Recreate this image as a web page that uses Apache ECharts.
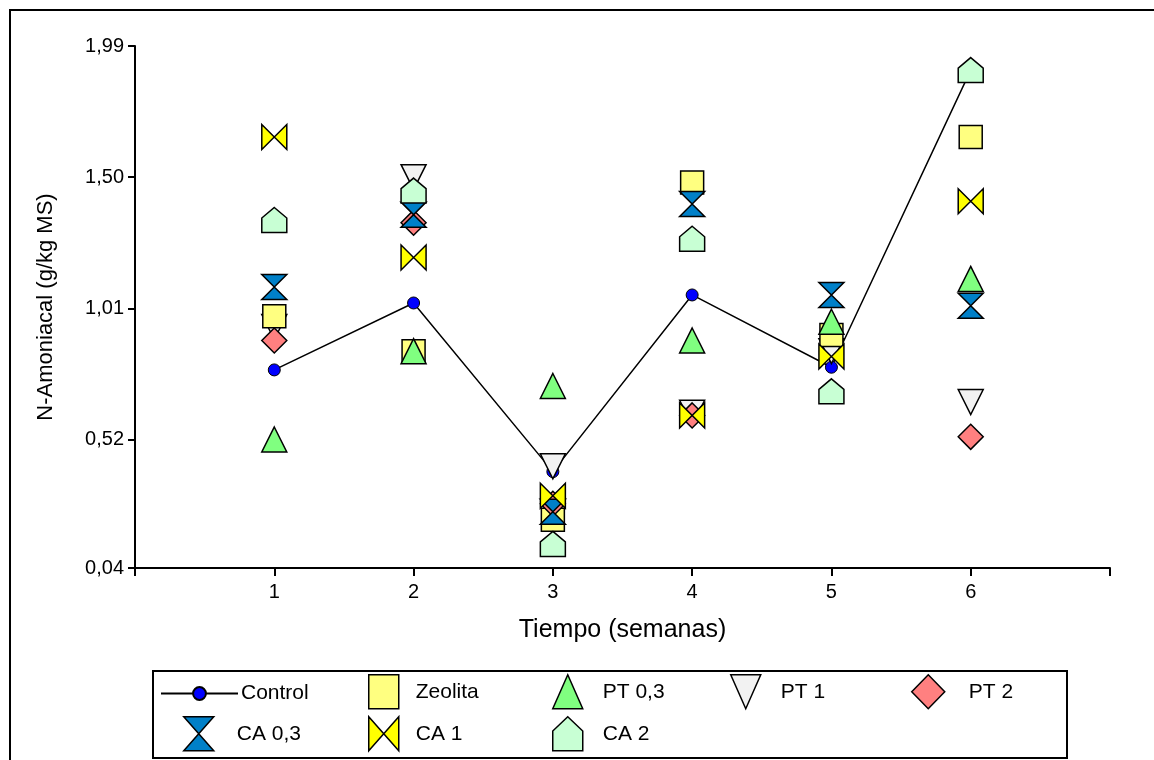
<!DOCTYPE html>
<html>
<head>
<meta charset="utf-8">
<script src="https://cdn.jsdelivr.net/npm/echarts@6/dist/echarts.min.js"></script>
<style>
html,body{margin:0;padding:0;background:#fff;}
#chart{width:1154px;height:760px;}
</style>
</head>
<body>
<div id="chart"></div>
<script>
// ---- data ----
var weeks = [1, 2, 3, 4, 5, 6];
var yTicks = [0.04, 0.52, 1.01, 1.50, 1.99];
var xTicks = [1, 2, 3, 4, 5, 6];
var control = [0.78, 1.03, 0.40, 1.06, 0.79, 1.90];
var zeolita = [0.98, 0.85, 0.22, 1.48, 0.91, 1.65];
var pt03    = [0.52, 0.85, 0.72, 0.89, 0.96, 1.12];
var pt1     = [0.94, 1.50, 0.42, 0.62, 0.85, 0.66];
var pt2     = [0.89, 1.33, 0.28, 0.61, null, 0.53];
var ca03    = [1.09, 1.36, 0.25, 1.40, 1.06, 1.02];
var ca1     = [1.65, 1.20, 0.31, 0.61, 0.83, 1.41];
var ca2     = [1.34, 1.45, 0.13, 1.27, 0.70, 1.90];

function pairs(arr){ return weeks.map(function(w,i){ return [w, arr[i]]; }); }

var FONT = "'Liberation Sans', Arial, sans-serif";
var SYM = {
  square: 'rect',
  triUp: 'triangle',
  triDown: 'path://M0,0 L10,0 L5,10 Z',
  diamond: 'diamond',
  hourglass: 'path://M0,0 L10,0 L0,10 L10,10 Z',
  bowtie: 'path://M0,0 L0,10 L10,0 L10,10 Z',
  house: 'path://M5,0 L10,4.2 L10,10 L0,10 L0,4.2 Z'
};

var scatterDefs = [
  {name:'Zeolita', data:zeolita, sym:SYM.square, color:'#FFFF80', size:[23,23], z:3, leg:{left:368, top:674, pad:12}},
  {name:'PT 0,3', data:pt03, sym:SYM.triUp, color:'#80FF80', size:[25,25], z:4, leg:{left:552, top:674, pad:15}},
  {name:'PT 1', data:pt1, sym:SYM.triDown, color:'#F2F2F2', size:[25,25], z:2, leg:{left:730, top:674, pad:15}},
  {name:'PT 2', data:pt2, sym:SYM.diamond, color:'#FF8080', size:[25,25], z:5, leg:{left:911, top:674, pad:19, w:33}},
  {name:'CA 0,3', data:ca03, sym:SYM.hourglass, color:'#0080C8', size:[25,25], z:6, leg:{left:183, top:716, pad:18}},
  {name:'CA 1', data:ca1, sym:SYM.bowtie, color:'#FFFF00', size:[25,25], z:7, leg:{left:368, top:716, pad:12}},
  {name:'CA 2', data:ca2, sym:SYM.house, color:'#C8FFD4', size:[25,25], z:8, leg:{left:552, top:716, pad:15}}
];

var series = [{
  name:'Control', type:'line', data:pairs(control), z:1,
  symbol:'circle', symbolSize:12,
  itemStyle:{color:'#0000FF', borderColor:'#000', borderWidth:1},
  lineStyle:{color:'#000', width:1.5},
  emphasis:{disabled:true}
}];
var legends = [{
  data:['Control'], left:160, top:683, padding:0, itemWidth:77, itemHeight:16,
  textStyle:{fontFamily:FONT, fontSize:21, color:'#000', padding:[0,0,0,-2]},
  selectedMode:false
}];
scatterDefs.forEach(function(d){
  series.push({
    name:d.name, type:'scatter', data:pairs(d.data), z:d.z,
    symbol:d.sym, symbolSize:d.size,
    itemStyle:{color:d.color, borderColor:'#000', borderWidth:1.5, opacity:1},
    emphasis:{disabled:true}
  });
  legends.push({
    data:[{name:d.name, icon:d.sym}], left:d.leg.left, top:d.leg.top, padding:0,
    itemWidth:d.leg.w || 30, itemHeight:34, symbolKeepAspect:false,
    itemStyle:{borderColor:'#000', borderWidth:1.5},
    textStyle:{fontFamily:FONT, fontSize:21, color:'#000', padding:[0,0,0,d.leg.pad]},
    selectedMode:false
  });
});

var chart = echarts.init(document.getElementById('chart'), null, {renderer:'canvas'});
chart.setOption({
  animation:false,
  backgroundColor:'#fff',
  grid:{left:135, right:44, top:46, bottom:192, containLabel:false},
  xAxis:{
    type:'value', min:0, max:7, interval:1,
    name:'Tiempo (semanas)', nameLocation:'middle', nameGap:50,
    nameTextStyle:{fontFamily:FONT, fontSize:25, color:'#000'},
    axisLine:{show:true, onZero:false, lineStyle:{color:'#000', width:2}},
    axisTick:{show:true, inside:false, length:8, lineStyle:{color:'#000', width:2}},
    axisLabel:{fontFamily:FONT, fontSize:20, color:'#000', margin:14,
      formatter:function(v){ return xTicks.indexOf(v) >= 0 ? String(v) : ''; }},
    splitLine:{show:false}
  },
  yAxis:{
    type:'value', min:yTicks[0], max:yTicks[yTicks.length-1],
    name:'N-Amoniacal (g/kg MS)', nameLocation:'middle', nameGap:78, nameRotate:90,
    nameTextStyle:{fontFamily:FONT, fontSize:22, color:'#000'},
    axisLine:{show:true, onZero:false, lineStyle:{color:'#000', width:2}},
    axisTick:{show:true, length:7, customValues:yTicks, lineStyle:{color:'#000', width:2}},
    axisLabel:{fontFamily:FONT, fontSize:20, color:'#000', margin:11, customValues:yTicks,
      formatter:function(v){ return v.toFixed(2).replace('.', ','); }},
    splitLine:{show:false}
  },
  legend:legends,
  graphic:[
    {type:'rect', shape:{x:10, y:10, width:1300, height:900}, style:{fill:'none', stroke:'#000', lineWidth:2}, silent:true, z:-1},
    {type:'rect', shape:{x:153, y:671, width:914, height:87}, style:{fill:'none', stroke:'#000', lineWidth:2}, silent:true}
  ],
  series:series
});
</script>
</body>
</html>
